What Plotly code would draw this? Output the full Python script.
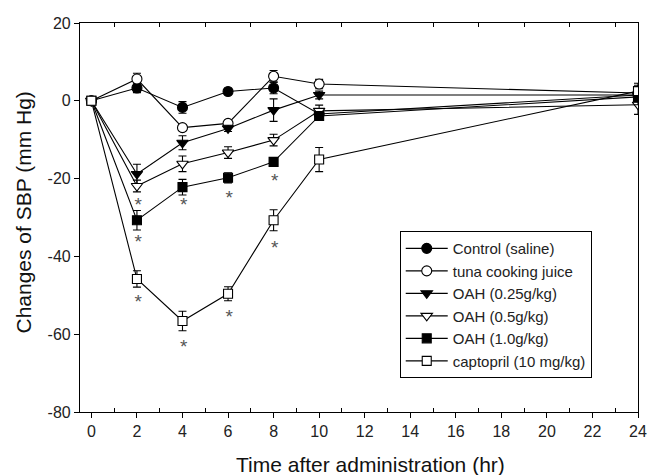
import plotly.graph_objects as go

# ---- data ----
time_hr = [0, 2, 4, 6, 8, 10, 24]

control = [0, 3.3, -1.7, 2.4, 3.3, -3.4, 1.5]
control_err = [0, 1.2, 1.5, 0.8, 1.5, 1.0, 2.0]

tuna = [0, 5.6, -6.9, -5.8, 6.3, 4.3, 2.0]
tuna_err = [0, 1.5, 0.8, 0.8, 1.5, 1.2, 2.0]

oah025 = [0, -18.8, -10.8, -7.1, -2.4, 1.5, 1.5]
oah025_err = [0, 2.5, 1.8, 0.8, 2.9, 1.0, 2.0]

oah05 = [0, -21.9, -16.2, -13.3, -10.1, -2.6, -1.0]
oah05_err = [0, 1.5, 2.0, 1.5, 1.5, 1.5, 2.5]

oah10 = [0, -30.7, -22.2, -19.8, -15.7, -3.9, 1.0]
oah10_err = [0, 2.5, 2.0, 1.3, 0.8, 1.0, 2.0]

captopril = [0, -45.8, -56.6, -49.6, -30.7, -15.1, 2.5]
captopril_err = [0, 2.1, 2.5, 1.8, 2.7, 3.1, 2.0]

series_names = ["Control (saline)", "tuna cooking juice", "OAH (0.25g/kg)",
                "OAH (0.5g/kg)", "OAH (1.0g/kg)", "captopril (10 mg/kg)"]

# significance asterisks
star_x = [2.05, 2.05, 2.05, 4.05, 4.05, 6.05, 6.05, 8.05, 8.05]
star_y = [-27.0, -36.5, -52.0, -27.0, -63.6, -25.2, -55.9, -21.0, -38.2]

x_ticks = list(range(0, 25, 2))
x_minor = list(range(1, 24, 2))
y_ticks = [20, 0, -20, -40, -60, -80]
y_ticktext = ["20", "0", "-20", "-40", "-60", "-80"]

FONT = "Liberation Sans, Arial, Helvetica, sans-serif"

styles = [
    dict(symbol="circle", size=10, color="black"),
    dict(symbol="circle", size=10, color="white"),
    dict(symbol="triangle-down", size=10, color="black"),
    dict(symbol="triangle-down", size=10, color="white"),
    dict(symbol="square", size=9, color="black"),
    dict(symbol="square", size=9, color="white"),
]
values = [control, tuna, oah025, oah05, oah10, captopril]
errors = [control_err, tuna_err, oah025_err, oah05_err, oah10_err, captopril_err]

fig = go.Figure()
for name, vals, errs, st in zip(series_names, values, errors, styles):
    fig.add_trace(go.Scatter(
        x=time_hr, y=vals, name=name, mode="lines+markers",
        line=dict(color="black", width=1.1),
        marker=dict(symbol=st["symbol"], size=st["size"], color=st["color"],
                    line=dict(color="black", width=1.1)),
        error_y=dict(type="data", array=errs, visible=True, color="black",
                     thickness=1.1, width=4),
    ))

fig.add_trace(go.Scatter(
    x=star_x, y=star_y, mode="text", text=["*"] * len(star_x),
    textfont=dict(size=19, color="#555555", family=FONT),
    showlegend=False, hoverinfo="skip",
))

# invisible trace for top axis
fig.add_trace(go.Scatter(x=[0], y=[0], xaxis="x2", mode="markers",
                         marker=dict(opacity=0), showlegend=False, hoverinfo="skip"))

fig.update_layout(
    width=651, height=475,
    margin=dict(l=80, r=13, t=23, b=63, autoexpand=False),
    paper_bgcolor="white", plot_bgcolor="white",
    font=dict(family=FONT, size=16, color="#222222"),
    showlegend=True,
    legend=dict(
        x=0.573, y=0.465, xanchor="left", yanchor="top",
        bordercolor="black", borderwidth=1, bgcolor="white",
        font=dict(size=15, family=FONT, color="#222222"),
        tracegroupgap=0, itemwidth=42, entrywidth=192, entrywidthmode="pixels",
    ),
    xaxis=dict(
        range=[-0.5, 24], tickmode="array", tickvals=x_ticks,
        ticks="outside", ticklen=5, tickwidth=1, tickcolor="black",
        showline=True, linecolor="black", linewidth=1.2, mirror=True,
        showgrid=False, zeroline=False, automargin=False,
        minor=dict(tickmode="array", tickvals=x_minor, ticks="inside",
                   ticklen=4, tickwidth=1, tickcolor="black", showgrid=False),
        tickfont=dict(size=16),
    ),
    xaxis2=dict(
        overlaying="x", side="top", range=[-0.5, 24], tickmode="array",
        tickvals=x_minor, ticks="inside", ticklen=4, tickwidth=1, tickcolor="black",
        showticklabels=False, showline=False, showgrid=False, zeroline=False,
        automargin=False,
    ),
    yaxis=dict(
        range=[-80, 20], tickmode="array", tickvals=y_ticks, ticktext=y_ticktext,
        ticks="outside", ticklen=5, tickwidth=1, tickcolor="black",
        showline=True, linecolor="black", linewidth=1.2, mirror=True,
        showgrid=False, zeroline=False, tickfont=dict(size=16), automargin=False,
    ),
    annotations=[
        dict(text="Time after administration (hr)", xref="paper", yref="paper",
             x=0.5215, y=-0.136, xanchor="center", yanchor="middle",
             showarrow=False, font=dict(size=21, family=FONT, color="#111111")),
        dict(text="Changes of SBP (mm Hg)", xref="paper", yref="paper",
             x=-0.102, y=0.513, xanchor="center", yanchor="middle", textangle=-90,
             showarrow=False, font=dict(size=21, family=FONT, color="#111111")),
    ],
)

fig.write_html("out.html", config={"displayModeBar": False},
               post_script="document.body.style.margin='0';document.body.style.padding='0';")
